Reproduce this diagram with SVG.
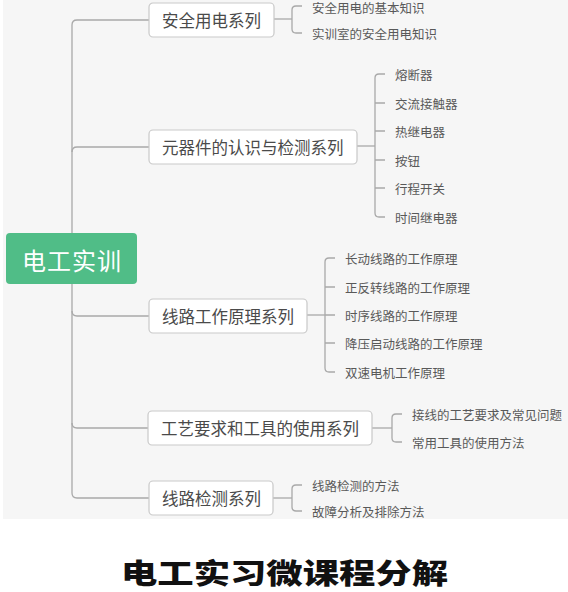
<svg xmlns="http://www.w3.org/2000/svg" width="568" height="592" viewBox="0 0 568 592">
<style>
.bg{fill:#f6f6f6}
.ln{fill:none;stroke:#a9a9a9;stroke-width:1.3}
.box{fill:#ffffff;stroke:#c9c9c9;stroke-width:1.2}
.t1{font-family:"Noto Sans CJK SC","Microsoft YaHei",sans-serif;font-size:16.5px;fill:#4a4a4a;dominant-baseline:central}
.t2{font-family:"Noto Sans CJK SC","Microsoft YaHei",sans-serif;font-size:12.5px;fill:#595959;dominant-baseline:central}
.root{fill:#50bd87}
.rt{font-family:"Noto Sans CJK SC","Microsoft YaHei",sans-serif;font-size:24px;fill:#ffffff;dominant-baseline:central;text-anchor:middle;letter-spacing:1px}
.title{font-family:"Noto Sans CJK SC",sans-serif;font-size:28px;font-weight:900;fill:#111111;dominant-baseline:central}
</style>
<rect class="bg" x="3" y="0" width="565" height="519"/>
<g id="connectors">
  <path class="ln" d="M72,258 V25 Q72,20 77,20 H149"/>
  <path class="ln" d="M72,152 Q72,147 77,147 H149"/>
  <path class="ln" d="M72,258 V493 Q72,498 77,498 H149"/>
  <path class="ln" d="M72,311 Q72,316 77,316 H149"/>
  <path class="ln" d="M72,423 Q72,428 77,428 H148"/>
  <path class="ln" d="M274,19 H292"/>
  <path class="ln" d="M302,6 H296 Q292,6 292,10 V29 Q292,33 296,33 H302"/>
  <path class="ln" d="M357,146 H375"/>
  <path class="ln" d="M385,74 H379 Q375,74 375,78 V213 Q375,217 379,217 H385"/>
  <path class="ln" d="M375,103 H385 M375,131 H385 M375,160 H385 M375,188 H385"/>
  <path class="ln" d="M307,315 H325"/>
  <path class="ln" d="M335,258 H329 Q325,258 325,262 V368 Q325,372 329,372 H335"/>
  <path class="ln" d="M325,287 H335 M325,315 H335 M325,343 H335"/>
  <path class="ln" d="M372,428 H392"/>
  <path class="ln" d="M402,414 H396 Q392,414 392,418 V438 Q392,442 396,442 H402"/>
  <path class="ln" d="M273,498 H292"/>
  <path class="ln" d="M302,485 H296 Q292,485 292,489 V507 Q292,511 296,511 H302"/>
</g>
<g id="root">
  <rect class="root" x="6" y="233" width="131" height="51" rx="4"/>
  <text class="rt" x="72" y="259">电工实训</text>
</g>
<g id="n1">
  <rect class="box" x="149" y="3" width="125" height="34" rx="4"/>
  <text class="t1" x="162" y="20">安全用电系列</text>
</g>
<g id="n1a"><text class="t2" x="312" y="7">安全用电的基本知识</text></g>
<g id="n1b"><text class="t2" x="312" y="33">实训室的安全用电知识</text></g>
<g id="n2">
  <rect class="box" x="149" y="130" width="208" height="34" rx="4"/>
  <text class="t1" x="162" y="147">元器件的认识与检测系列</text>
</g>
<g id="n2a"><text class="t2" x="395" y="74">熔断器</text></g>
<g id="n2b"><text class="t2" x="395" y="103">交流接触器</text></g>
<g id="n2c"><text class="t2" x="395" y="131">热继电器</text></g>
<g id="n2d"><text class="t2" x="395" y="160">按钮</text></g>
<g id="n2e"><text class="t2" x="395" y="188">行程开关</text></g>
<g id="n2f"><text class="t2" x="395" y="217">时间继电器</text></g>
<g id="n3">
  <rect class="box" x="149" y="299" width="158" height="34" rx="4"/>
  <text class="t1" x="162" y="316">线路工作原理系列</text>
</g>
<g id="n3a"><text class="t2" x="345" y="258">长动线路的工作原理</text></g>
<g id="n3b"><text class="t2" x="345" y="287">正反转线路的工作原理</text></g>
<g id="n3c"><text class="t2" x="345" y="315">时序线路的工作原理</text></g>
<g id="n3d"><text class="t2" x="345" y="343">降压启动线路的工作原理</text></g>
<g id="n3e"><text class="t2" x="345" y="372">双速电机工作原理</text></g>
<g id="n4">
  <rect class="box" x="148" y="411" width="224" height="34" rx="4"/>
  <text class="t1" x="161" y="428">工艺要求和工具的使用系列</text>
</g>
<g id="n4a"><text class="t2" x="412" y="414">接线的工艺要求及常见问题</text></g>
<g id="n4b"><text class="t2" x="412" y="442">常用工具的使用方法</text></g>
<g id="n5">
  <rect class="box" x="149" y="481" width="124" height="34" rx="4"/>
  <text class="t1" x="162" y="498">线路检测系列</text>
</g>
<g id="n5a"><text class="t2" x="312" y="485">线路检测的方法</text></g>
<g id="n5b"><text class="t2" x="312" y="511">故障分析及排除方法</text></g>
<g id="caption">
  <text class="title" x="121" y="572" textLength="327" lengthAdjust="spacingAndGlyphs">电工实习微课程分解</text>
</g>
</svg>
